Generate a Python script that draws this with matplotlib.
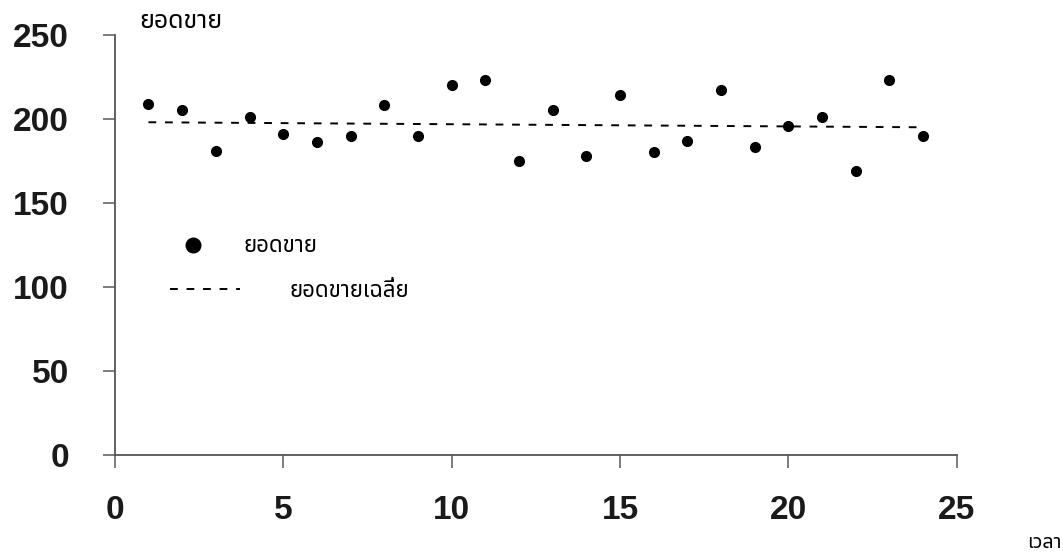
import matplotlib.pyplot as plt
import numpy as np

# sales per period
periods = np.arange(1, 25)
sales = [209, 205, 181, 201, 191, 186, 190, 208, 190, 220, 223, 175,
         205, 178, 214, 180, 187, 217, 183, 196, 201, 169, 223, 190]

# average (trend) line end points
avg_x = [1, 24]
avg_y = [198, 195]

x_ticks = [0, 5, 10, 15, 20, 25]
y_ticks = [0, 50, 100, 150, 200, 250]

thai = ['Noto Sans Thai', 'Tlwg Typo', 'DejaVu Sans', 'Noto Sans']
plt.rcParams['font.family'] = thai

fig = plt.figure(figsize=(10.63, 5.54), dpi=100)
ax1 = fig.add_axes([0.108, 0.179, 0.792, 0.758])
ax1.spines['right'].set_visible(False)
ax1.spines['top'].set_visible(False)
for s in ['left', 'bottom']:
    ax1.spines[s].set_color('#555555')
    ax1.spines[s].set_linewidth(1.3)

pts, = ax1.plot(periods, sales, 'o', color='black', ms=7, label='ยอดขาย')
avg, = ax1.plot(avg_x, avg_y, color='black', lw=1.4, dashes=(4, 4.5), label='ยอดขายเฉลี่ย')

ax1.set_xlim(0, 25)
ax1.set_ylim(0, 250)
ax1.set_xticks(x_ticks)
ax1.set_yticks(y_ticks)
ax1.tick_params(length=9, width=1.2, color='#666666')
ax1.tick_params(axis='x', pad=20)
ax1.tick_params(axis='y', pad=24)
for lab in ax1.get_xticklabels() + ax1.get_yticklabels():
    lab.set_family(['Liberation Sans', 'DejaVu Sans'])
    lab.set_fontweight('bold')
    lab.set_fontsize(24)
    lab.set_color('#1a1a1a')

fig.text(0.131, 0.962, 'ยอดขาย', fontsize=18, fontweight='bold', ha='left', va='center')
fig.text(0.999, 0.02, 'เวลา', fontsize=14, ha='right', va='center')

# two separate legend entries, placed like the original
leg1 = ax1.legend(handles=[pts], loc='center left', bbox_to_anchor=(0.060, 0.495),
                  frameon=False, fontsize=16, markerscale=1.5, borderpad=0,
                  handlelength=1.5, handletextpad=1.5)
ax1.add_artist(leg1)
ax1.legend(handles=[avg], loc='center left', bbox_to_anchor=(0.052, 0.39),
           frameon=False, fontsize=16, borderpad=0,
           handlelength=3.15, handletextpad=2.25)

plt.savefig('out.png', dpi=100)
